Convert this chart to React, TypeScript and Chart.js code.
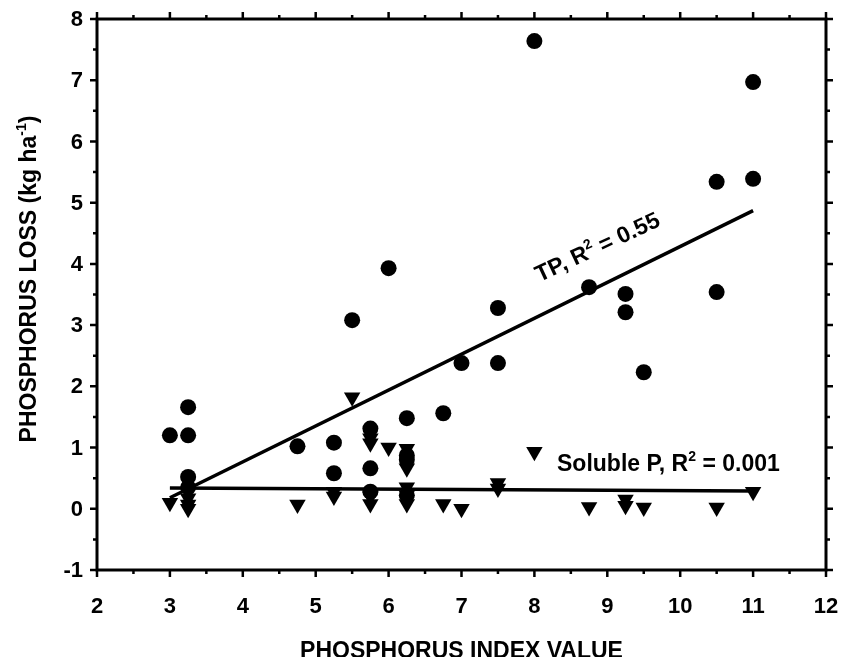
import React, { useEffect, useRef } from "react";
import { Chart, registerables } from "chart.js";

Chart.register(...registerables);

// ---- data ----
const tpIndex = [3, 3.25, 3.25, 3.25, 3.25, 4.75, 5.25, 5.25, 5.5, 5.75, 5.75, 5.75, 6, 6.25, 6.25, 6.25, 6.25, 6.75, 7, 7.5, 7.5, 8, 8.75, 9.25, 9.25, 9.5, 10.5, 10.5, 11, 11];
const tpLoss = [1.2, 1.66, 1.2, 0.52, 0.35, 1.02, 1.08, 0.58, 3.08, 1.31, 0.66, 0.28, 3.93, 1.48, 0.87, 0.8, 0.22, 1.56, 2.38, 3.28, 2.38, 7.64, 3.62, 3.51, 3.21, 2.23, 5.34, 3.54, 6.97, 5.39];

const solIndex = [3, 3.25, 3.25, 3.25, 3.25, 4.75, 5.25, 5.25, 5.5, 5.75, 5.75, 5.75, 5.75, 6, 6.25, 6.25, 6.25, 6.25, 6.25, 6.75, 7, 7.5, 7.5, 8, 8.75, 9.25, 9.25, 9.5, 10.5, 11];
const solLoss = [0.1, 0.28, 0.17, 0.07, 0.0, 0.07, 0.28, 0.2, 1.82, 1.15, 1.07, 0.2, 0.08, 1.0, 0.98, 0.66, 0.35, 0.22, 0.08, 0.08, 0.0, 0.42, 0.33, 0.93, 0.03, 0.15, 0.05, 0.02, 0.02, 0.28];

const tpFitIndex = [3, 11];
const tpFitLoss = [0.18, 4.87];
const solFitIndex = [3, 11];
const solFitLoss = [0.34, 0.29];

const xTickValues = [2, 3, 4, 5, 6, 7, 8, 9, 10, 11, 12];
const yTickValues = [-1, 0, 1, 2, 3, 4, 5, 6, 7, 8];

const xTitle = "PHOSPHORUS INDEX VALUE";
const yTitleParts = ["PHOSPHORUS LOSS (kg ha", "-1", ")"];
const tpLabelParts = ["TP, R", "2", " = 0.55"];
const solLabelParts = ["Soluble P, R", "2", " = 0.001"];

// ---- styling / placement ----
const FONT_FAMILY = '"Liberation Sans", Arial, Helvetica, sans-serif';
const TICK_FONT_SIZE = 22;
const TITLE_FONT_SIZE = 23;
const NOTE_FONT_SIZE = 23;
const SUP_FONT_SIZE = 14;
const tpLabelAnchor = { x: 8.07, y: 3.7, angle: -25 };
const solLabelAnchor = { x: 8.31, y: 0.62 };

function drawSupText(
  ctx: CanvasRenderingContext2D,
  parts: string[],
  x: number,
  y: number,
  size: number,
  align: "left" | "center"
) {
  const main = `bold ${size}px ${FONT_FAMILY}`;
  const sup = `bold ${SUP_FONT_SIZE}px ${FONT_FAMILY}`;
  ctx.font = main;
  const w0 = ctx.measureText(parts[0]).width;
  const w2 = ctx.measureText(parts[2]).width;
  ctx.font = sup;
  const w1 = ctx.measureText(parts[1]).width;
  const total = w0 + w1 + w2;
  let cx = align === "center" ? x - total / 2 : x;
  ctx.textAlign = "left";
  ctx.textBaseline = "alphabetic";
  ctx.fillStyle = "#000";
  ctx.font = main;
  ctx.fillText(parts[0], cx, y);
  cx += w0;
  ctx.font = sup;
  ctx.fillText(parts[1], cx, y - size * 0.42);
  cx += w1;
  ctx.font = main;
  ctx.fillText(parts[2], cx, y);
}

const framePlugin = {
  id: "frameAndNotes",
  afterDraw(chart: any) {
    const ctx: CanvasRenderingContext2D = chart.ctx;
    const { left, right, top, bottom } = chart.chartArea;
    const xs = chart.scales.x;
    const ys = chart.scales.y;
    ctx.save();
    ctx.strokeStyle = "#000";
    ctx.lineCap = "butt";
    // frame
    ctx.lineWidth = 3;
    ctx.strokeRect(left, top, right - left, bottom - top);
    // ticks (outward), majors and half-unit minors
    const MAJ = 7;
    const MIN = 4;
    ctx.lineWidth = 2.5;
    ctx.beginPath();
    xTickValues.forEach((v, i) => {
      const px = xs.getPixelForValue(v);
      ctx.moveTo(px, bottom); ctx.lineTo(px, bottom + MAJ);
      ctx.moveTo(px, top); ctx.lineTo(px, top - MAJ);
      if (i < xTickValues.length - 1) {
        const mx = xs.getPixelForValue((v + xTickValues[i + 1]) / 2);
        ctx.moveTo(mx, bottom); ctx.lineTo(mx, bottom + MIN);
        ctx.moveTo(mx, top); ctx.lineTo(mx, top - MIN);
      }
    });
    yTickValues.forEach((v, i) => {
      const py = ys.getPixelForValue(v);
      ctx.moveTo(left, py); ctx.lineTo(left - MAJ, py);
      ctx.moveTo(right, py); ctx.lineTo(right + MAJ, py);
      if (i < yTickValues.length - 1) {
        const my = ys.getPixelForValue((v + yTickValues[i + 1]) / 2);
        ctx.moveTo(left, my); ctx.lineTo(left - MIN, my);
        ctx.moveTo(right, my); ctx.lineTo(right + MIN, my);
      }
    });
    ctx.stroke();

    // tick labels
    ctx.fillStyle = "#000";
    ctx.font = `bold ${TICK_FONT_SIZE}px ${FONT_FAMILY}`;
    ctx.textBaseline = "middle";
    ctx.textAlign = "center";
    xTickValues.forEach((v) => {
      ctx.fillText(String(v), xs.getPixelForValue(v), bottom + 37);
    });
    ctx.textAlign = "right";
    yTickValues.forEach((v) => {
      ctx.fillText(String(v), left - 14, ys.getPixelForValue(v) + 1);
    });

    // axis titles
    ctx.font = `bold ${TITLE_FONT_SIZE}px ${FONT_FAMILY}`;
    ctx.textAlign = "center";
    ctx.textBaseline = "middle";
    ctx.fillText(xTitle, (left + right) / 2, 652);

    ctx.save();
    ctx.translate(36, 279);
    ctx.rotate(-Math.PI / 2);
    drawSupText(ctx, yTitleParts, 0, 0, TITLE_FONT_SIZE, "center");
    ctx.restore();

    // regression annotations
    ctx.save();
    ctx.translate(xs.getPixelForValue(tpLabelAnchor.x), ys.getPixelForValue(tpLabelAnchor.y));
    ctx.rotate((tpLabelAnchor.angle * Math.PI) / 180);
    drawSupText(ctx, tpLabelParts, 0, 0, NOTE_FONT_SIZE, "left");
    ctx.restore();

    drawSupText(
      ctx,
      solLabelParts,
      xs.getPixelForValue(solLabelAnchor.x),
      ys.getPixelForValue(solLabelAnchor.y),
      NOTE_FONT_SIZE,
      "left"
    );
    ctx.restore();
  },
};

export default function App() {
  const canvasRef = useRef<HTMLCanvasElement | null>(null);

  useEffect(() => {
    if (!canvasRef.current) return;
    const chart = new Chart(canvasRef.current, {
      type: "scatter",
      data: {
        datasets: [
          {
            label: "TP fit",
            data: tpFitIndex.map((x, i) => ({ x, y: tpFitLoss[i] })),
            showLine: true,
            borderColor: "#000",
            borderWidth: 3.5,
            pointRadius: 0,
            order: 3,
          },
          {
            label: "Soluble P fit",
            data: solFitIndex.map((x, i) => ({ x, y: solFitLoss[i] })),
            showLine: true,
            borderColor: "#000",
            borderWidth: 3.5,
            pointRadius: 0,
            order: 3,
          },
          {
            label: "TP",
            data: tpIndex.map((x, i) => ({ x, y: tpLoss[i] })),
            pointStyle: "circle",
            pointRadius: 8,
            backgroundColor: "#000",
            borderColor: "#000",
            borderWidth: 0,
            order: 2,
          },
          {
            label: "Soluble P",
            data: solIndex.map((x, i) => ({ x, y: solLoss[i] })),
            pointStyle: "triangle",
            rotation: 180,
            pointRadius: 9.5,
            backgroundColor: "#000",
            borderColor: "#000",
            borderWidth: 0,
            order: 1,
          },
        ],
      },
      options: {
        animation: false,
        responsive: false,
        events: [],
        layout: { padding: { top: 19, right: 20, left: 0, bottom: 0 } },
        plugins: {
          legend: { display: false },
          tooltip: { enabled: false },
          title: { display: false },
        },
        scales: {
          x: {
            type: "linear",
            min: 2,
            max: 12,
            afterFit: (s: any) => {
              s.height = 95;
            },
            afterBuildTicks: (s: any) => {
              s.ticks = xTickValues.map((value) => ({ value }));
            },
            ticks: { display: false, padding: 0 },
            grid: { display: false, drawTicks: false },
            border: { display: false },
          },
          y: {
            type: "linear",
            min: -1,
            max: 8,
            afterFit: (s: any) => {
              s.width = 97;
            },
            afterBuildTicks: (s: any) => {
              s.ticks = yTickValues.map((value) => ({ value }));
            },
            ticks: { display: false, padding: 0 },
            grid: { display: false, drawTicks: false },
            border: { display: false },
          },
        },
      },
      plugins: [framePlugin],
    });
    return () => chart.destroy();
  }, []);

  return (
    <div style={{ margin: -8, width: 846, height: 665, background: "#fff" }}>
      <canvas ref={canvasRef} width={846} height={665} style={{ display: "block" }} />
    </div>
  );
}
